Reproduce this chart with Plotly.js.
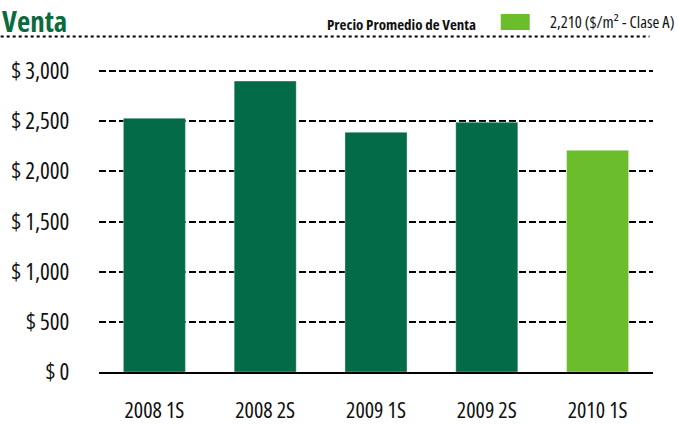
<!DOCTYPE html>
<html><head><meta charset="utf-8">
<script src="https://cdn.plot.ly/plotly-3.0.1.min.js"></script>
<style>html,body{margin:0;padding:0;background:#fff}#chart{width:678px;height:424px}
text{font-stretch:75% !important}</style>
</head><body><div id="chart"></div>
<script>
const categories = ["2008 1S","2008 2S","2009 1S","2009 2S","2010 1S"];
const values = [2530, 2900, 2390, 2490, 2210];
const barColors = ["#036B47","#036B47","#036B47","#036B47","#6CBD2B"];
const tickValues = [0,500,1000,1500,2000,2500,3000];
const tickLabels = ["$ 0","$ 500","$ 1,000","$ 1,500","$ 2,000","$ 2,500","$ 3,000"];
const titleText = "Venta";
const legendLabel = "Precio Promedio de Venta";
const legendValue = "2,210 ($/m² - Clase A)";

const FONT = '"Open Sans", "DejaVu Sans", sans-serif';
const W = 678, H = 424;
const L = 98.5, R = 653.5, T = 61, B = 372;
const px = x => (x - L) / (R - L);
const py = y => (B - y) / (B - T);

const trace = {
  type: 'bar', x: categories, y: values,
  marker: {color: barColors, line: {color: 'rgba(255,255,255,0.35)', width: 1}},
  hoverinfo: 'x+y'
};

const layout = {
  width: W, height: H,
  margin: {l: L, r: W - R, t: T, b: H - B, pad: 0},
  paper_bgcolor: '#fff', plot_bgcolor: '#fff',
  showlegend: false,
  bargap: 0.44,
  font: {family: FONT, color: '#111', size: 22},
  xaxis: {
    type: 'category', range: [-0.5, 4.5],
    showgrid: false, zeroline: false,
    showline: true, linecolor: '#000', linewidth: 2,
    ticks: 'outside', ticklen: 18, tickcolor: 'rgba(0,0,0,0)',
    tickfont: {family: FONT, size: 22, color: '#111'}
  },
  yaxis: {
    range: [0, 3100], tickvals: tickValues, ticktext: tickLabels,
    showgrid: true, gridcolor: '#000', gridwidth: 2, griddash: '7px,3px',
    zeroline: false, showline: false,
    ticks: 'outside', ticklen: 24, tickcolor: 'rgba(0,0,0,0)',
    tickfont: {family: FONT, size: 23, color: '#111'}
  },
  shapes: [
    {type: 'line', xref: 'paper', yref: 'paper', x0: px(0), x1: px(650), y0: py(36.5), y1: py(36.5),
     line: {color: '#000', width: 2, dash: 'dot'}},
    {type: 'rect', xref: 'paper', yref: 'paper', x0: px(501), x1: px(530), y0: py(30), y1: py(14),
     fillcolor: '#6CBD2B', line: {width: 0}}
  ],
  annotations: [
    {text: '<b>' + titleText + '</b>', xref: 'paper', yref: 'paper', x: px(0), y: py(0),
     xanchor: 'left', yanchor: 'top', showarrow: false, borderpad: 0,
     font: {family: FONT, size: 29, color: '#0B6B3E'}},
    {text: '<b>' + legendLabel + '</b>', xref: 'paper', yref: 'paper', x: px(478), y: py(24),
     xanchor: 'right', yanchor: 'middle', showarrow: false,
     font: {family: FONT, size: 15, color: '#111'}},
    {text: legendValue, xref: 'paper', yref: 'paper', x: px(677), y: py(22),
     xanchor: 'right', yanchor: 'middle', showarrow: false,
     font: {family: FONT, size: 16.5, color: '#111'}}
  ]
};

Plotly.newPlot('chart', [trace], layout, {displayModeBar: false, staticPlot: true});
</script></body></html>
